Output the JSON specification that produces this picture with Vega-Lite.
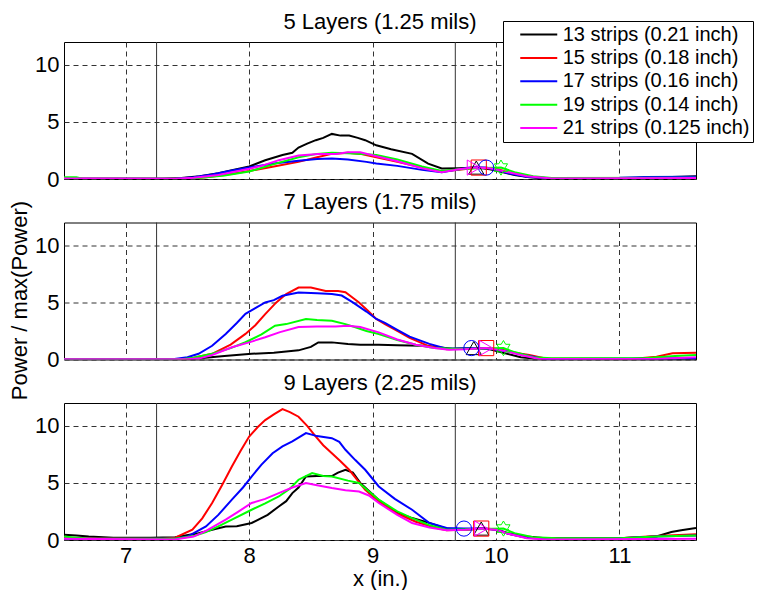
{
  "$schema": "https://vega.github.io/schema/vega-lite/v6.json",
  "padding": {"left": 8, "top": 10, "right": 0, "bottom": 0},
  "background": "white",
  "bounds": "flush",
  "datasets": {
    "vlines": [{"x": 7.25}, {"x": 9.67}],
    "markers": [
      {"p": 5, "m": "m13", "x": 9.84, "y": 1}, {"p": 5, "m": "m15", "x": 9.86, "y": 1}, {"p": 5, "m": "m17", "x": 9.92, "y": 1}, {"p": 5, "m": "m19", "x": 10.04, "y": 1}, {"p": 5, "m": "m21", "x": 9.82, "y": 1},
      {"p": 7, "m": "m13", "x": 9.82, "y": 1}, {"p": 7, "m": "m15", "x": 9.92, "y": 1}, {"p": 7, "m": "m17", "x": 9.80, "y": 1}, {"p": 7, "m": "m19", "x": 10.06, "y": 1}, {"p": 7, "m": "m21", "x": 9.92, "y": 1},
      {"p": 9, "m": "m13", "x": 9.88, "y": 1}, {"p": 9, "m": "m15", "x": 9.88, "y": 1}, {"p": 9, "m": "m17", "x": 9.74, "y": 1}, {"p": 9, "m": "m19", "x": 10.06, "y": 1}, {"p": 9, "m": "m21", "x": 9.88, "y": 1}
    ],
    "curves": [
      {"p":5,"s":"13","x":6.5,"y":0.03},{"p":5,"s":"13","x":7.3,"y":0.03},{"p":5,"s":"13","x":7.45,"y":0.08},{"p":5,"s":"13","x":7.6,"y":0.25},{"p":5,"s":"13","x":7.75,"y":0.5},{"p":5,"s":"13","x":7.86,"y":0.76},{"p":5,"s":"13","x":8.0,"y":1.1},{"p":5,"s":"13","x":8.13,"y":1.64},{"p":5,"s":"13","x":8.27,"y":2.1},{"p":5,"s":"13","x":8.35,"y":2.3},{"p":5,"s":"13","x":8.4,"y":2.75},{"p":5,"s":"13","x":8.47,"y":3.1},{"p":5,"s":"13","x":8.54,"y":3.4},{"p":5,"s":"13","x":8.6,"y":3.6},{"p":5,"s":"13","x":8.67,"y":3.95},{"p":5,"s":"13","x":8.74,"y":3.8},{"p":5,"s":"13","x":8.81,"y":3.8},{"p":5,"s":"13","x":8.88,"y":3.6},{"p":5,"s":"13","x":8.94,"y":3.4},{"p":5,"s":"13","x":9.03,"y":2.95},{"p":5,"s":"13","x":9.15,"y":2.6},{"p":5,"s":"13","x":9.32,"y":2.2},{"p":5,"s":"13","x":9.45,"y":1.35},{"p":5,"s":"13","x":9.56,"y":0.92},{"p":5,"s":"13","x":9.7,"y":0.95},{"p":5,"s":"13","x":9.84,"y":1.0},{"p":5,"s":"13","x":9.95,"y":0.85},{"p":5,"s":"13","x":10.05,"y":0.6},{"p":5,"s":"13","x":10.15,"y":0.35},{"p":5,"s":"13","x":10.27,"y":0.15},{"p":5,"s":"13","x":10.4,"y":0.05},{"p":5,"s":"13","x":11.0,"y":0.05},{"p":5,"s":"13","x":11.2,"y":0.12},{"p":5,"s":"13","x":11.5,"y":0.2},{"p":5,"s":"13","x":11.62,"y":0.25},
      {"p":5,"s":"15","x":6.5,"y":0.02},{"p":5,"s":"15","x":7.5,"y":0.02},{"p":5,"s":"15","x":7.65,"y":0.15},{"p":5,"s":"15","x":7.8,"y":0.35},{"p":5,"s":"15","x":8.0,"y":0.7},{"p":5,"s":"15","x":8.2,"y":1.1},{"p":5,"s":"15","x":8.4,"y":1.5},{"p":5,"s":"15","x":8.55,"y":1.9},{"p":5,"s":"15","x":8.67,"y":2.2},{"p":5,"s":"15","x":8.8,"y":2.3},{"p":5,"s":"15","x":8.9,"y":2.2},{"p":5,"s":"15","x":9.03,"y":1.9},{"p":5,"s":"15","x":9.2,"y":1.5},{"p":5,"s":"15","x":9.4,"y":1.0},{"p":5,"s":"15","x":9.56,"y":0.65},{"p":5,"s":"15","x":9.7,"y":0.8},{"p":5,"s":"15","x":9.86,"y":1.0},{"p":5,"s":"15","x":10.0,"y":0.9},{"p":5,"s":"15","x":10.1,"y":0.6},{"p":5,"s":"15","x":10.25,"y":0.25},{"p":5,"s":"15","x":10.4,"y":0.05},{"p":5,"s":"15","x":11.62,"y":0.1},
      {"p":5,"s":"17","x":6.5,"y":0.02},{"p":5,"s":"17","x":7.4,"y":0.02},{"p":5,"s":"17","x":7.55,"y":0.15},{"p":5,"s":"17","x":7.7,"y":0.4},{"p":5,"s":"17","x":7.86,"y":0.75},{"p":5,"s":"17","x":8.02,"y":1.05},{"p":5,"s":"17","x":8.2,"y":1.35},{"p":5,"s":"17","x":8.4,"y":1.6},{"p":5,"s":"17","x":8.55,"y":1.75},{"p":5,"s":"17","x":8.67,"y":1.8},{"p":5,"s":"17","x":8.8,"y":1.7},{"p":5,"s":"17","x":8.95,"y":1.5},{"p":5,"s":"17","x":9.03,"y":1.35},{"p":5,"s":"17","x":9.2,"y":1.15},{"p":5,"s":"17","x":9.4,"y":0.8},{"p":5,"s":"17","x":9.56,"y":0.6},{"p":5,"s":"17","x":9.7,"y":0.85},{"p":5,"s":"17","x":9.8,"y":1.0},{"p":5,"s":"17","x":9.92,"y":1.0},{"p":5,"s":"17","x":10.0,"y":0.8},{"p":5,"s":"17","x":10.1,"y":0.5},{"p":5,"s":"17","x":10.25,"y":0.2},{"p":5,"s":"17","x":10.4,"y":0.08},{"p":5,"s":"17","x":11.0,"y":0.1},{"p":5,"s":"17","x":11.2,"y":0.18},{"p":5,"s":"17","x":11.62,"y":0.2},
      {"p":5,"s":"19","x":6.5,"y":0.15},{"p":5,"s":"19","x":6.6,"y":0.15},{"p":5,"s":"19","x":6.65,"y":0.02},{"p":5,"s":"19","x":7.5,"y":0.02},{"p":5,"s":"19","x":7.65,"y":0.15},{"p":5,"s":"19","x":7.8,"y":0.3},{"p":5,"s":"19","x":8.0,"y":0.65},{"p":5,"s":"19","x":8.2,"y":1.3},{"p":5,"s":"19","x":8.4,"y":1.9},{"p":5,"s":"19","x":8.55,"y":2.2},{"p":5,"s":"19","x":8.67,"y":2.3},{"p":5,"s":"19","x":8.8,"y":2.25},{"p":5,"s":"19","x":8.92,"y":2.2},{"p":5,"s":"19","x":9.03,"y":2.1},{"p":5,"s":"19","x":9.2,"y":1.7},{"p":5,"s":"19","x":9.4,"y":1.1},{"p":5,"s":"19","x":9.56,"y":0.7},{"p":5,"s":"19","x":9.7,"y":0.85},{"p":5,"s":"19","x":9.85,"y":0.95},{"p":5,"s":"19","x":10.04,"y":1.0},{"p":5,"s":"19","x":10.15,"y":0.6},{"p":5,"s":"19","x":10.3,"y":0.25},{"p":5,"s":"19","x":10.45,"y":0.08},{"p":5,"s":"19","x":11.62,"y":0.12},
      {"p":5,"s":"21","x":6.5,"y":0.05},{"p":5,"s":"21","x":7.4,"y":0.02},{"p":5,"s":"21","x":7.55,"y":0.1},{"p":5,"s":"21","x":7.75,"y":0.35},{"p":5,"s":"21","x":8.0,"y":0.9},{"p":5,"s":"21","x":8.1,"y":1.15},{"p":5,"s":"21","x":8.24,"y":1.65},{"p":5,"s":"21","x":8.4,"y":2.05},{"p":5,"s":"21","x":8.56,"y":2.2},{"p":5,"s":"21","x":8.7,"y":2.2},{"p":5,"s":"21","x":8.8,"y":2.35},{"p":5,"s":"21","x":8.9,"y":2.35},{"p":5,"s":"21","x":9.03,"y":2.0},{"p":5,"s":"21","x":9.2,"y":1.55},{"p":5,"s":"21","x":9.4,"y":0.95},{"p":5,"s":"21","x":9.56,"y":0.6},{"p":5,"s":"21","x":9.7,"y":0.85},{"p":5,"s":"21","x":9.82,"y":1.0},{"p":5,"s":"21","x":9.95,"y":0.95},{"p":5,"s":"21","x":10.1,"y":0.6},{"p":5,"s":"21","x":10.25,"y":0.25},{"p":5,"s":"21","x":10.45,"y":0.05},{"p":5,"s":"21","x":11.62,"y":0.08},

      {"p":7,"s":"13","x":6.5,"y":0.02},{"p":7,"s":"13","x":7.5,"y":0.02},{"p":7,"s":"13","x":7.6,"y":0.1},{"p":7,"s":"13","x":7.8,"y":0.3},{"p":7,"s":"13","x":8.02,"y":0.5},{"p":7,"s":"13","x":8.2,"y":0.6},{"p":7,"s":"13","x":8.4,"y":0.8},{"p":7,"s":"13","x":8.5,"y":1.1},{"p":7,"s":"13","x":8.56,"y":1.5},{"p":7,"s":"13","x":8.67,"y":1.5},{"p":7,"s":"13","x":8.8,"y":1.35},{"p":7,"s":"13","x":8.9,"y":1.3},{"p":7,"s":"13","x":9.05,"y":1.3},{"p":7,"s":"13","x":9.2,"y":1.25},{"p":7,"s":"13","x":9.4,"y":1.2},{"p":7,"s":"13","x":9.55,"y":1.05},{"p":7,"s":"13","x":9.65,"y":0.95},{"p":7,"s":"13","x":9.82,"y":1.0},{"p":7,"s":"13","x":9.95,"y":0.9},{"p":7,"s":"13","x":10.05,"y":0.6},{"p":7,"s":"13","x":10.2,"y":0.2},{"p":7,"s":"13","x":10.35,"y":0.05},{"p":7,"s":"13","x":11.62,"y":0.05},
      {"p":7,"s":"15","x":6.5,"y":0.02},{"p":7,"s":"15","x":7.45,"y":0.02},{"p":7,"s":"15","x":7.55,"y":0.15},{"p":7,"s":"15","x":7.7,"y":0.5},{"p":7,"s":"15","x":7.85,"y":1.3},{"p":7,"s":"15","x":7.97,"y":2.24},{"p":7,"s":"15","x":8.05,"y":3.0},{"p":7,"s":"15","x":8.13,"y":3.98},{"p":7,"s":"15","x":8.22,"y":5.0},{"p":7,"s":"15","x":8.3,"y":5.73},{"p":7,"s":"15","x":8.4,"y":6.3},{"p":7,"s":"15","x":8.5,"y":6.3},{"p":7,"s":"15","x":8.62,"y":6.0},{"p":7,"s":"15","x":8.72,"y":6.0},{"p":7,"s":"15","x":8.78,"y":5.9},{"p":7,"s":"15","x":8.89,"y":5.0},{"p":7,"s":"15","x":8.96,"y":4.3},{"p":7,"s":"15","x":9.03,"y":3.55},{"p":7,"s":"15","x":9.1,"y":3.1},{"p":7,"s":"15","x":9.2,"y":2.5},{"p":7,"s":"15","x":9.3,"y":1.9},{"p":7,"s":"15","x":9.45,"y":1.2},{"p":7,"s":"15","x":9.6,"y":0.9},{"p":7,"s":"15","x":9.92,"y":1.0},{"p":7,"s":"15","x":10.05,"y":0.85},{"p":7,"s":"15","x":10.15,"y":0.6},{"p":7,"s":"15","x":10.27,"y":0.4},{"p":7,"s":"15","x":10.4,"y":0.08},{"p":7,"s":"15","x":11.1,"y":0.05},{"p":7,"s":"15","x":11.3,"y":0.25},{"p":7,"s":"15","x":11.43,"y":0.55},{"p":7,"s":"15","x":11.62,"y":0.6},
      {"p":7,"s":"17","x":6.5,"y":0.02},{"p":7,"s":"17","x":7.38,"y":0.02},{"p":7,"s":"17","x":7.5,"y":0.2},{"p":7,"s":"17","x":7.59,"y":0.5},{"p":7,"s":"17","x":7.7,"y":1.2},{"p":7,"s":"17","x":7.81,"y":2.24},{"p":7,"s":"17","x":7.9,"y":3.2},{"p":7,"s":"17","x":7.97,"y":4.0},{"p":7,"s":"17","x":8.05,"y":4.5},{"p":7,"s":"17","x":8.13,"y":5.0},{"p":7,"s":"17","x":8.2,"y":5.2},{"p":7,"s":"17","x":8.27,"y":5.58},{"p":7,"s":"17","x":8.4,"y":5.87},{"p":7,"s":"17","x":8.55,"y":5.8},{"p":7,"s":"17","x":8.67,"y":5.73},{"p":7,"s":"17","x":8.75,"y":5.6},{"p":7,"s":"17","x":8.84,"y":5.0},{"p":7,"s":"17","x":8.95,"y":4.2},{"p":7,"s":"17","x":9.03,"y":3.55},{"p":7,"s":"17","x":9.1,"y":3.2},{"p":7,"s":"17","x":9.2,"y":2.6},{"p":7,"s":"17","x":9.3,"y":2.0},{"p":7,"s":"17","x":9.46,"y":1.37},{"p":7,"s":"17","x":9.6,"y":0.95},{"p":7,"s":"17","x":9.8,"y":1.0},{"p":7,"s":"17","x":9.95,"y":0.95},{"p":7,"s":"17","x":10.1,"y":0.7},{"p":7,"s":"17","x":10.27,"y":0.3},{"p":7,"s":"17","x":10.4,"y":0.05},{"p":7,"s":"17","x":11.62,"y":0.1},
      {"p":7,"s":"19","x":6.5,"y":0.02},{"p":7,"s":"19","x":7.45,"y":0.02},{"p":7,"s":"19","x":7.55,"y":0.15},{"p":7,"s":"19","x":7.7,"y":0.5},{"p":7,"s":"19","x":7.85,"y":1.0},{"p":7,"s":"19","x":7.97,"y":1.51},{"p":7,"s":"19","x":8.1,"y":2.2},{"p":7,"s":"19","x":8.21,"y":2.96},{"p":7,"s":"19","x":8.3,"y":3.1},{"p":7,"s":"19","x":8.46,"y":3.55},{"p":7,"s":"19","x":8.55,"y":3.45},{"p":7,"s":"19","x":8.67,"y":3.4},{"p":7,"s":"19","x":8.78,"y":3.1},{"p":7,"s":"19","x":8.86,"y":2.82},{"p":7,"s":"19","x":8.95,"y":2.5},{"p":7,"s":"19","x":9.05,"y":2.24},{"p":7,"s":"19","x":9.2,"y":1.7},{"p":7,"s":"19","x":9.35,"y":1.3},{"p":7,"s":"19","x":9.5,"y":1.0},{"p":7,"s":"19","x":9.65,"y":0.95},{"p":7,"s":"19","x":9.8,"y":0.95},{"p":7,"s":"19","x":10.06,"y":1.0},{"p":7,"s":"19","x":10.15,"y":0.65},{"p":7,"s":"19","x":10.3,"y":0.2},{"p":7,"s":"19","x":10.45,"y":0.1},{"p":7,"s":"19","x":11.2,"y":0.12},{"p":7,"s":"19","x":11.45,"y":0.3},{"p":7,"s":"19","x":11.62,"y":0.4},
      {"p":7,"s":"21","x":6.5,"y":0.02},{"p":7,"s":"21","x":7.5,"y":0.02},{"p":7,"s":"21","x":7.6,"y":0.1},{"p":7,"s":"21","x":7.7,"y":0.4},{"p":7,"s":"21","x":7.86,"y":1.07},{"p":7,"s":"21","x":8.0,"y":1.5},{"p":7,"s":"21","x":8.13,"y":1.95},{"p":7,"s":"21","x":8.25,"y":2.4},{"p":7,"s":"21","x":8.4,"y":2.85},{"p":7,"s":"21","x":8.55,"y":2.9},{"p":7,"s":"21","x":8.7,"y":2.9},{"p":7,"s":"21","x":8.8,"y":2.96},{"p":7,"s":"21","x":8.9,"y":2.85},{"p":7,"s":"21","x":9.05,"y":2.38},{"p":7,"s":"21","x":9.2,"y":1.75},{"p":7,"s":"21","x":9.35,"y":1.3},{"p":7,"s":"21","x":9.5,"y":1.0},{"p":7,"s":"21","x":9.62,"y":0.85},{"p":7,"s":"21","x":9.75,"y":0.9},{"p":7,"s":"21","x":9.92,"y":1.0},{"p":7,"s":"21","x":10.05,"y":0.8},{"p":7,"s":"21","x":10.2,"y":0.4},{"p":7,"s":"21","x":10.35,"y":0.05},{"p":7,"s":"21","x":11.3,"y":0.05},{"p":7,"s":"21","x":11.62,"y":0.2},

      {"p":9,"s":"13","x":6.5,"y":0.45},{"p":9,"s":"13","x":6.6,"y":0.4},{"p":9,"s":"13","x":6.7,"y":0.3},{"p":9,"s":"13","x":6.9,"y":0.2},{"p":9,"s":"13","x":7.2,"y":0.2},{"p":9,"s":"13","x":7.4,"y":0.25},{"p":9,"s":"13","x":7.59,"y":0.6},{"p":9,"s":"13","x":7.7,"y":0.9},{"p":9,"s":"13","x":7.81,"y":1.19},{"p":9,"s":"13","x":7.9,"y":1.2},{"p":9,"s":"13","x":8.02,"y":1.49},{"p":9,"s":"13","x":8.15,"y":2.2},{"p":9,"s":"13","x":8.24,"y":2.94},{"p":9,"s":"13","x":8.3,"y":3.4},{"p":9,"s":"13","x":8.35,"y":4.11},{"p":9,"s":"13","x":8.4,"y":4.6},{"p":9,"s":"13","x":8.46,"y":5.56},{"p":9,"s":"13","x":8.55,"y":5.6},{"p":9,"s":"13","x":8.67,"y":5.6},{"p":9,"s":"13","x":8.72,"y":5.9},{"p":9,"s":"13","x":8.78,"y":6.15},{"p":9,"s":"13","x":8.84,"y":5.9},{"p":9,"s":"13","x":8.9,"y":5.0},{"p":9,"s":"13","x":9.05,"y":3.5},{"p":9,"s":"13","x":9.2,"y":2.4},{"p":9,"s":"13","x":9.32,"y":1.92},{"p":9,"s":"13","x":9.46,"y":1.5},{"p":9,"s":"13","x":9.6,"y":1.0},{"p":9,"s":"13","x":9.75,"y":0.9},{"p":9,"s":"13","x":9.88,"y":1.0},{"p":9,"s":"13","x":10.0,"y":0.95},{"p":9,"s":"13","x":10.1,"y":0.6},{"p":9,"s":"13","x":10.25,"y":0.3},{"p":9,"s":"13","x":10.4,"y":0.15},{"p":9,"s":"13","x":11.0,"y":0.15},{"p":9,"s":"13","x":11.3,"y":0.3},{"p":9,"s":"13","x":11.42,"y":0.7},{"p":9,"s":"13","x":11.5,"y":0.85},{"p":9,"s":"13","x":11.62,"y":1.05},
      {"p":9,"s":"15","x":6.5,"y":0.15},{"p":9,"s":"15","x":7.3,"y":0.12},{"p":9,"s":"15","x":7.4,"y":0.2},{"p":9,"s":"15","x":7.54,"y":0.9},{"p":9,"s":"15","x":7.62,"y":1.9},{"p":9,"s":"15","x":7.7,"y":3.24},{"p":9,"s":"15","x":7.78,"y":4.8},{"p":9,"s":"15","x":7.86,"y":6.44},{"p":9,"s":"15","x":7.93,"y":7.8},{"p":9,"s":"15","x":8.0,"y":9.06},{"p":9,"s":"15","x":8.07,"y":9.9},{"p":9,"s":"15","x":8.13,"y":10.5},{"p":9,"s":"15","x":8.2,"y":11.0},{"p":9,"s":"15","x":8.27,"y":11.46},{"p":9,"s":"15","x":8.33,"y":11.2},{"p":9,"s":"15","x":8.4,"y":10.8},{"p":9,"s":"15","x":8.47,"y":10.0},{"p":9,"s":"15","x":8.54,"y":9.06},{"p":9,"s":"15","x":8.6,"y":8.3},{"p":9,"s":"15","x":8.67,"y":7.6},{"p":9,"s":"15","x":8.74,"y":6.9},{"p":9,"s":"15","x":8.81,"y":6.15},{"p":9,"s":"15","x":8.88,"y":5.2},{"p":9,"s":"15","x":8.94,"y":4.4},{"p":9,"s":"15","x":9.05,"y":3.38},{"p":9,"s":"15","x":9.2,"y":2.3},{"p":9,"s":"15","x":9.35,"y":1.6},{"p":9,"s":"15","x":9.5,"y":1.1},{"p":9,"s":"15","x":9.6,"y":0.85},{"p":9,"s":"15","x":9.75,"y":0.9},{"p":9,"s":"15","x":9.88,"y":1.0},{"p":9,"s":"15","x":10.0,"y":0.9},{"p":9,"s":"15","x":10.1,"y":0.55},{"p":9,"s":"15","x":10.25,"y":0.2},{"p":9,"s":"15","x":10.4,"y":0.1},{"p":9,"s":"15","x":11.0,"y":0.15},{"p":9,"s":"15","x":11.3,"y":0.35},{"p":9,"s":"15","x":11.62,"y":0.5},
      {"p":9,"s":"17","x":6.5,"y":0.1},{"p":9,"s":"17","x":7.4,"y":0.1},{"p":9,"s":"17","x":7.5,"y":0.3},{"p":9,"s":"17","x":7.65,"y":1.19},{"p":9,"s":"17","x":7.75,"y":2.2},{"p":9,"s":"17","x":7.86,"y":3.53},{"p":9,"s":"17","x":7.95,"y":4.6},{"p":9,"s":"17","x":8.02,"y":5.56},{"p":9,"s":"17","x":8.1,"y":6.6},{"p":9,"s":"17","x":8.19,"y":7.6},{"p":9,"s":"17","x":8.27,"y":8.2},{"p":9,"s":"17","x":8.35,"y":8.63},{"p":9,"s":"17","x":8.46,"y":9.36},{"p":9,"s":"17","x":8.55,"y":9.1},{"p":9,"s":"17","x":8.67,"y":8.92},{"p":9,"s":"17","x":8.73,"y":8.6},{"p":9,"s":"17","x":8.78,"y":7.9},{"p":9,"s":"17","x":8.86,"y":7.0},{"p":9,"s":"17","x":8.94,"y":6.15},{"p":9,"s":"17","x":9.05,"y":4.69},{"p":9,"s":"17","x":9.18,"y":3.6},{"p":9,"s":"17","x":9.32,"y":2.65},{"p":9,"s":"17","x":9.46,"y":1.49},{"p":9,"s":"17","x":9.6,"y":1.05},{"p":9,"s":"17","x":9.74,"y":1.0},{"p":9,"s":"17","x":9.9,"y":1.0},{"p":9,"s":"17","x":10.0,"y":0.9},{"p":9,"s":"17","x":10.1,"y":0.55},{"p":9,"s":"17","x":10.25,"y":0.2},{"p":9,"s":"17","x":10.4,"y":0.1},{"p":9,"s":"17","x":11.0,"y":0.15},{"p":9,"s":"17","x":11.3,"y":0.3},{"p":9,"s":"17","x":11.62,"y":0.4},
      {"p":9,"s":"19","x":6.5,"y":0.3},{"p":9,"s":"19","x":6.6,"y":0.2},{"p":9,"s":"19","x":6.7,"y":0.1},{"p":9,"s":"19","x":7.4,"y":0.1},{"p":9,"s":"19","x":7.55,"y":0.35},{"p":9,"s":"19","x":7.65,"y":0.7},{"p":9,"s":"19","x":7.75,"y":1.2},{"p":9,"s":"19","x":7.86,"y":1.78},{"p":9,"s":"19","x":8.02,"y":2.65},{"p":9,"s":"19","x":8.13,"y":3.2},{"p":9,"s":"19","x":8.24,"y":3.81},{"p":9,"s":"19","x":8.33,"y":4.5},{"p":9,"s":"19","x":8.4,"y":5.28},{"p":9,"s":"19","x":8.51,"y":5.86},{"p":9,"s":"19","x":8.6,"y":5.6},{"p":9,"s":"19","x":8.67,"y":5.57},{"p":9,"s":"19","x":8.8,"y":5.2},{"p":9,"s":"19","x":8.89,"y":4.99},{"p":9,"s":"19","x":9.05,"y":3.53},{"p":9,"s":"19","x":9.2,"y":2.5},{"p":9,"s":"19","x":9.32,"y":1.92},{"p":9,"s":"19","x":9.46,"y":1.3},{"p":9,"s":"19","x":9.6,"y":0.9},{"p":9,"s":"19","x":9.8,"y":0.95},{"p":9,"s":"19","x":10.06,"y":1.0},{"p":9,"s":"19","x":10.15,"y":0.6},{"p":9,"s":"19","x":10.3,"y":0.25},{"p":9,"s":"19","x":10.5,"y":0.15},{"p":9,"s":"19","x":11.0,"y":0.15},{"p":9,"s":"19","x":11.3,"y":0.3},{"p":9,"s":"19","x":11.62,"y":0.4},
      {"p":9,"s":"21","x":6.5,"y":0.1},{"p":9,"s":"21","x":7.4,"y":0.05},{"p":9,"s":"21","x":7.55,"y":0.3},{"p":9,"s":"21","x":7.65,"y":0.8},{"p":9,"s":"21","x":7.81,"y":1.78},{"p":9,"s":"21","x":7.9,"y":2.4},{"p":9,"s":"21","x":8.02,"y":3.24},{"p":9,"s":"21","x":8.13,"y":3.6},{"p":9,"s":"21","x":8.24,"y":4.11},{"p":9,"s":"21","x":8.35,"y":4.6},{"p":9,"s":"21","x":8.46,"y":4.99},{"p":9,"s":"21","x":8.55,"y":4.8},{"p":9,"s":"21","x":8.67,"y":4.55},{"p":9,"s":"21","x":8.78,"y":4.35},{"p":9,"s":"21","x":8.89,"y":4.25},{"p":9,"s":"21","x":8.97,"y":3.9},{"p":9,"s":"21","x":9.05,"y":3.24},{"p":9,"s":"21","x":9.2,"y":2.2},{"p":9,"s":"21","x":9.32,"y":1.49},{"p":9,"s":"21","x":9.46,"y":1.1},{"p":9,"s":"21","x":9.6,"y":0.85},{"p":9,"s":"21","x":9.75,"y":0.9},{"p":9,"s":"21","x":9.88,"y":1.0},{"p":9,"s":"21","x":10.0,"y":0.9},{"p":9,"s":"21","x":10.1,"y":0.55},{"p":9,"s":"21","x":10.25,"y":0.15},{"p":9,"s":"21","x":10.4,"y":0.05},{"p":9,"s":"21","x":11.62,"y":0.1}
    ]
  },
  "spacing": 43.5,
  "resolve": {"scale": {"color": "shared", "shape": "shared", "stroke": "shared"}, "legend": {"color": "shared"}},
  "vconcat": [
    {
      "title": "5 Layers (1.25 mils)",
      "width": 632, "height": 137,
      "encoding": {"x": {"field": "x", "type": "quantitative", "scale": {"domain": [6.5, 11.62], "nice": false, "zero": false}, "axis": {"values": [7, 8, 9, 10, 11], "labels": false, "title": null}}},
      "layer": [
        {"data": {"name": "vlines"}, "mark": {"type": "rule", "color": "#333333", "strokeWidth": 1}},
        {"data": {"name": "curves"}, "transform": [{"filter": "datum.p == 5"}], "mark": {"type": "line", "strokeWidth": 2, "clip": true},
         "encoding": {"y": {"field": "y", "type": "quantitative", "scale": {"domain": [0, 12], "nice": false}, "axis": {"values": [0, 5, 10], "title": "Power / max(Power)", "titleY": 258}},
                      "color": {"field": "s", "type": "nominal", "scale": {"domain": ["13","15","17","19","21"], "range": ["#000000","#ff0000","#0000ff","#00ff00","#ff00ff"]},
                                "legend": {"orient": "none", "legendX": 439, "legendY": -21, "title": null, "symbolType": "M-2,0H2", "symbolSize": 342, "symbolStrokeWidth": 2, "symbolOffset": 22.25, "labelFontSize": 20, "labelFont": "Liberation Sans", "labelColor": "black", "labelOffset": 13.5, "strokeColor": "black", "fillColor": "white", "padding": 3, "rowPadding": 2.4,
                                  "labelExpr": "datum.label == '13' ? '13 strips (0.21 inch)' : datum.label == '15' ? '15 strips (0.18 inch)' : datum.label == '17' ? '17 strips (0.16 inch)' : datum.label == '19' ? '19 strips (0.14 inch)' : '21 strips (0.125 inch)'"}}}},
        {"data": {"name": "markers"}, "transform": [{"filter": "datum.p == 5"}], "mark": {"type": "point", "filled": false, "size": 230, "strokeWidth": 1, "opacity": 1},
         "encoding": {"y": {"field": "y", "type": "quantitative"},
                      "stroke": {"field": "m", "type": "nominal", "scale": {"domain": ["m13","m15","m17","m19","m21"], "range": ["#000000","#ff0000","#0000ff","#00ff00","#ff00ff"]}, "legend": null},
                      "shape": {"field": "m", "type": "nominal", "scale": {"domain": ["m13","m15","m17","m19","m21"], "range": ["triangle-up","square","circle","M0,-1L0.289,-0.5L0.866,-0.5L0.577,0L0.866,0.5L0.289,0.5L0,1L-0.289,0.5L-0.866,0.5L-0.577,0L-0.866,-0.5L-0.289,-0.5Z","triangle-right"]}, "legend": null}}}
      ]
    },
    {
      "title": "7 Layers (1.75 mils)",
      "width": 632, "height": 137,
      "encoding": {"x": {"field": "x", "type": "quantitative", "scale": {"domain": [6.5, 11.62], "nice": false, "zero": false}, "axis": {"values": [7, 8, 9, 10, 11], "labels": false, "title": null}}},
      "layer": [
        {"data": {"name": "vlines"}, "mark": {"type": "rule", "color": "#333333", "strokeWidth": 1}},
        {"data": {"name": "curves"}, "transform": [{"filter": "datum.p == 7"}], "mark": {"type": "line", "strokeWidth": 2, "clip": true},
         "encoding": {"y": {"field": "y", "type": "quantitative", "scale": {"domain": [0, 12], "nice": false}, "axis": {"values": [0, 5, 10], "title": null}},
                      "color": {"field": "s", "type": "nominal"}}},
        {"data": {"name": "markers"}, "transform": [{"filter": "datum.p == 7"}], "mark": {"type": "point", "filled": false, "size": 230, "strokeWidth": 1, "opacity": 1},
         "encoding": {"y": {"field": "y", "type": "quantitative"},
                      "stroke": {"field": "m", "type": "nominal", "legend": null},
                      "shape": {"field": "m", "type": "nominal", "legend": null}}}
      ]
    },
    {
      "title": "9 Layers (2.25 mils)",
      "width": 632, "height": 137,
      "encoding": {"x": {"field": "x", "type": "quantitative", "scale": {"domain": [6.5, 11.62], "nice": false, "zero": false}, "axis": {"values": [7, 8, 9, 10, 11], "title": "x (in.)", "titlePadding": 2}}},
      "layer": [
        {"data": {"name": "vlines"}, "mark": {"type": "rule", "color": "#333333", "strokeWidth": 1}},
        {"data": {"name": "curves"}, "transform": [{"filter": "datum.p == 9"}], "mark": {"type": "line", "strokeWidth": 2, "clip": true},
         "encoding": {"y": {"field": "y", "type": "quantitative", "scale": {"domain": [0, 12], "nice": false}, "axis": {"values": [0, 5, 10], "title": null}},
                      "color": {"field": "s", "type": "nominal"}}},
        {"data": {"name": "markers"}, "transform": [{"filter": "datum.p == 9"}], "mark": {"type": "point", "filled": false, "size": 230, "strokeWidth": 1, "opacity": 1},
         "encoding": {"y": {"field": "y", "type": "quantitative"},
                      "stroke": {"field": "m", "type": "nominal", "legend": null},
                      "shape": {"field": "m", "type": "nominal", "legend": null}}}
      ]
    }
  ],
  "config": {
    "font": "Liberation Sans",
    "view": {"stroke": "black", "strokeWidth": 1},
    "title": {"font": "Liberation Sans", "fontSize": 22, "fontWeight": "normal", "color": "black", "offset": 8, "anchor": "middle", "frame": "group"},
    "axis": {"labelFont": "Liberation Sans", "labelFontSize": 22, "labelColor": "black", "titleFont": "Liberation Sans", "titleFontSize": 22, "titleFontWeight": "normal", "titleColor": "black",
             "grid": true, "gridColor": "#333333", "gridDash": [5, 4], "gridWidth": 1, "gridOpacity": 1, "ticks": false, "domain": false, "labelPadding": 5, "titlePadding": 3},
    "legend": {"labelLimit": 400}
  }
}
